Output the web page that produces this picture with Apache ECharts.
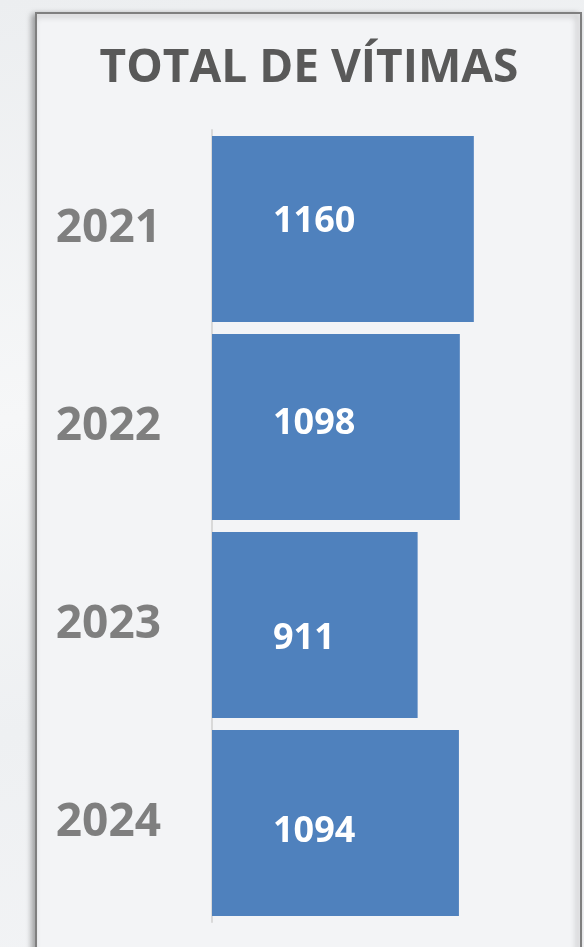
<!DOCTYPE html>
<html>
<head>
<meta charset="utf-8">
<script src="https://cdn.jsdelivr.net/npm/echarts@6/dist/echarts.min.js"></script>
<style>
  html, body {
    margin: 0;
    padding: 0;
    width: 584px;
    height: 947px;
    overflow: hidden;
    background: linear-gradient(170deg, #eceef0 0%, #f6f7f8 40%, #eef0f2 70%, #f3f4f6 100%);
  }
  #chart {
    width: 584px;
    height: 947px;
  }
</style>
</head>
<body>
<div id="chart"></div>
<script>
  // dados do gráfico
  var anos = ['2021', '2022', '2023', '2024']
  var vitimas = [1160, 1098, 911, 1094]
  // deslocamento vertical dos rótulos (como posicionados no original)
  var rotuloDy = [-7, -3, 14, 9]

  var myChart = echarts.init(document.getElementById('chart'))
  var fonte = '"Open Sans", "Noto Sans", sans-serif'

  myChart.setOption({
    animation: false,
    graphic: [
      {
        type: 'rect',
        z: -10,
        shape: { x: 36, y: 13, width: 545, height: 960 },
        style: {
          fill: '#f3f4f6',
          stroke: '#7f7f7f',
          lineWidth: 2,
          shadowBlur: 6,
          shadowOffsetX: -3,
          shadowOffsetY: 2,
          shadowColor: 'rgba(0,0,0,0.35)'
        }
      }
    ],
    title: {
      text: 'TOTAL DE VÍTIMAS',
      left: 304,
      top: 41,
      textAlign: 'center',
      textStyle: {
        color: '#595959',
        fontSize: 46,
        fontWeight: 'bold',
        fontFamily: fonte
      }
    },
    grid: {
      left: 212,
      top: 130,
      width: 316,
      height: 792
    },
    xAxis: {
      type: 'value',
      min: 0,
      max: 1400,
      show: false
    },
    yAxis: {
      type: 'category',
      inverse: true,
      data: anos,
      axisLine: {
        show: true,
        lineStyle: { color: '#d9d9d9', width: 2 }
      },
      axisTick: { show: false },
      axisLabel: {
        margin: 51,
        color: '#7f7f7f',
        fontSize: 46,
        fontWeight: 'bold',
        fontFamily: fonte
      }
    },
    series: [
      {
        type: 'bar',
        barCategoryGap: '6%',
        data: vitimas.map(function (v, i) {
          return { value: v, label: { offset: [0, rotuloDy[i]] } }
        }),
        itemStyle: { color: '#4f81bd' },
        label: {
          show: true,
          position: 'insideLeft',
          distance: 61,
          color: '#ffffff',
          fontSize: 36,
          fontWeight: 'bold',
          fontFamily: fonte
        }
      }
    ]
  })
</script>
</body>
</html>
